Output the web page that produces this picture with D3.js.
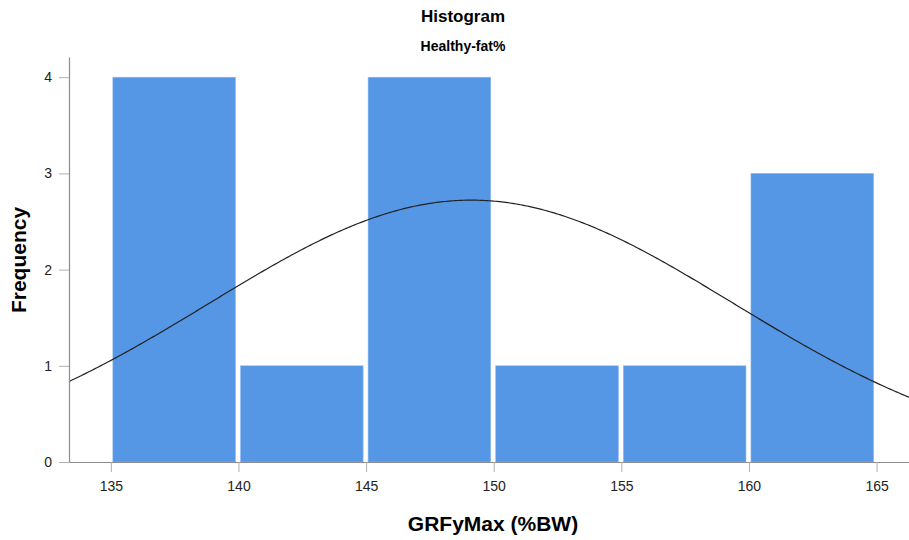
<!DOCTYPE html>
<html>
<head>
<meta charset="utf-8">
<script src="https://cdn.jsdelivr.net/npm/d3@7"></script>
<style>
  html, body { margin: 0; padding: 0; background: #fff; }
  svg { display: block; font-family: "Liberation Sans", Arial, sans-serif; }
</style>
</head>
<body>
<svg id="chart" width="909" height="540"></svg>
<script>
// Histogram bins (GRFyMax, %BW) and their counts
const binStarts = [135, 140, 145, 150, 155, 160];
const binWidth = 5;
const frequencies = [4, 1, 4, 1, 1, 3];

// Normal curve parameters for the sample
const sampleN = 14;
const sampleMean = 149.12;
const sampleSD = 10.26;

// Tick labels
const xTicks = [135, 140, 145, 150, 155, 160, 165];
const yTicks = [0, 1, 2, 3, 4];

const svg = d3.select("#chart");

const plotLeft = 69, plotRight = 909, plotBottom = 462, plotTop = 57;

const x = d3.scaleLinear().domain([133.36, 166.27]).range([plotLeft, plotRight]);
const y = d3.scaleLinear().domain([0, 4.21]).range([plotBottom, plotTop]);

// Titles
svg.append("text")
  .attr("x", 463).attr("y", 22)
  .attr("text-anchor", "middle")
  .attr("font-size", 17)
  .attr("font-weight", "bold")
  .attr("fill", "#000")
  .text("Histogram");

svg.append("text")
  .attr("x", 463).attr("y", 51)
  .attr("text-anchor", "middle")
  .attr("font-size", 14)
  .attr("font-weight", "bold")
  .attr("fill", "#000")
  .text("Healthy-fat%");

// Bars
const bins = binStarts.map((s, i) => ({ x0: s, x1: s + binWidth, n: frequencies[i] }));
svg.append("g")
  .selectAll("rect")
  .data(bins)
  .join("rect")
  .attr("x", d => x(d.x0) + 2)
  .attr("width", d => x(d.x1) - x(d.x0) - 5)
  .attr("y", d => y(d.n))
  .attr("height", d => y(0) - y(d.n))
  .attr("fill", "#5596e5")
  .attr("stroke", "#8fb9ee")
  .attr("stroke-width", 0.6);

// Fitted normal density scaled to counts
const normal = v => sampleN * binWidth / (sampleSD * Math.sqrt(2 * Math.PI)) *
  Math.exp(-((v - sampleMean) ** 2) / (2 * sampleSD * sampleSD));
const [d0, d1] = x.domain();
const curveX = d3.range(0, 401).map(i => d0 + i * (d1 - d0) / 400);
svg.append("path")
  .datum(curveX)
  .attr("d", d3.line().x(v => x(v)).y(v => y(normal(v))))
  .attr("fill", "none")
  .attr("stroke", "#222")
  .attr("stroke-width", 1.2);

// Axes
const xAxis = d3.axisBottom(x).tickValues(xTicks).tickFormat(d3.format("d"))
  .tickSize(10).tickSizeOuter(0).tickPadding(9);
const gx = svg.append("g").attr("transform", `translate(0,${plotBottom})`).call(xAxis);
gx.select(".domain").attr("stroke", "#8c8c8c").attr("stroke-width", 1.2);
gx.selectAll(".tick line").attr("stroke", "#b0b0b0");
gx.selectAll(".tick text").attr("font-size", 14).attr("fill", "#222")
  .attr("font-family", "Liberation Sans, Arial, sans-serif");

const yAxis = d3.axisLeft(y).tickValues(yTicks).tickFormat(d3.format("d"))
  .tickSize(10).tickSizeOuter(0).tickPadding(7);
const gy = svg.append("g").attr("transform", `translate(${plotLeft},0)`).call(yAxis);
gy.select(".domain").attr("stroke", "#8c8c8c").attr("stroke-width", 1.2);
gy.selectAll(".tick line").attr("stroke", "#b0b0b0");
gy.selectAll(".tick text").attr("font-size", 14).attr("fill", "#222")
  .attr("font-family", "Liberation Sans, Arial, sans-serif");

// Axis titles
svg.append("text")
  .attr("x", 493).attr("y", 531)
  .attr("text-anchor", "middle")
  .attr("font-size", 21)
  .attr("font-weight", "bold")
  .attr("fill", "#000")
  .text("GRFyMax (%BW)");

svg.append("text")
  .attr("transform", "translate(26,260) rotate(-90)")
  .attr("text-anchor", "middle")
  .attr("font-size", 21)
  .attr("font-weight", "bold")
  .attr("fill", "#000")
  .text("Frequency");
</script>
</body>
</html>
